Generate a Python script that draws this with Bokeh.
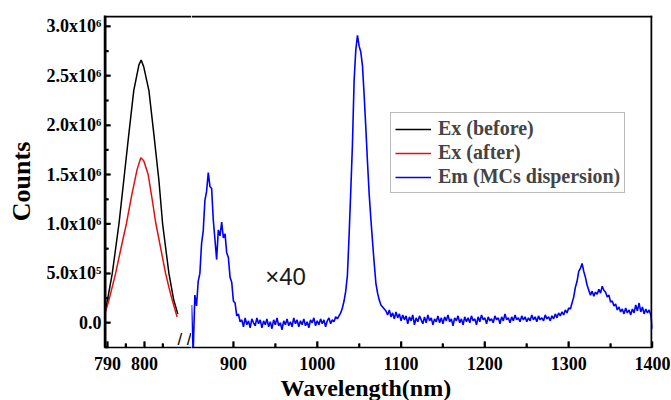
import numpy as np
from bokeh.plotting import figure
from bokeh.models import (Range1d, FixedTicker, Legend, LegendItem,
                          Label, Title)
from bokeh.layouts import row
from bokeh.embed import file_html
from bokeh.resources import INLINE

# ---------------- data (counts in units of 1e6) ----------------
ex_before_wl = [789.0, 790.0, 791.3, 793.1, 794.4, 795.8, 797.1, 798.5, 799.1,
                799.8, 801.2, 802.5, 803.9, 804.9, 806.6, 807.9, 809.0]
ex_before = [0.05, 0.23, 0.50, 1.00, 1.44, 1.92, 2.35, 2.61, 2.66,
             2.59, 2.35, 1.92, 1.44, 1.00, 0.50, 0.23, 0.09]

ex_after_wl = [789.0, 790.4, 792.2, 793.8, 795.1, 796.6, 798.0, 799.0, 799.8,
               801.0, 802.2, 803.0, 804.4, 805.7, 806.6, 807.5, 808.8]
ex_after = [0.05, 0.23, 0.50, 0.78, 1.00, 1.30, 1.55, 1.67, 1.64,
            1.50, 1.22, 1.02, 0.75, 0.50, 0.36, 0.23, 0.06]

# emission spectrum, sampled every 2 nm starting at 850 nm
em_start, em_step = 850, 2
em_counts = [
    0.18, -0.30, 0.28, 0.17, 0.42, 0.50, 0.80, 0.93, 1.24, 1.33,
    1.52, 1.38, 1.36, 1.04, 0.84, 0.64, 0.94, 0.88, 1.02, 0.86,
    0.90, 0.71, 0.66, 0.46, 0.41, 0.22, 0.20, 0.07, 0.09, 0.01,
    0.03, -0.04, 0.05, -0.02, 0.02, -0.05, 0.04, 0.00, -0.03, 0.05,
    -0.01, 0.03, -0.05, 0.02, -0.02, 0.04, -0.04, 0.01, -0.06, 0.03,
    -0.02, 0.05, -0.03, 0.00, -0.07, 0.02, -0.02, 0.04, -0.03, 0.01,
    -0.04, 0.05, -0.01, 0.03, -0.04, 0.02, -0.02, 0.04, -0.03, 0.01,
    -0.05, 0.03, 0.00, 0.05, -0.03, 0.02, -0.02, 0.04, -0.01, 0.03,
    -0.04, 0.02, 0.05, -0.01, 0.03, 0.01, 0.06, 0.04, 0.07, 0.10,
    0.15, 0.22, 0.32, 0.48, 0.88, 1.33, 1.80, 2.45, 2.76, 2.91,
    2.80, 2.74, 2.60, 2.30, 1.97, 1.62, 1.30, 1.05, 0.82, 0.60,
    0.40, 0.30, 0.23, 0.18, 0.16, 0.14, 0.12, 0.08, 0.13, 0.06,
    0.10, 0.04, 0.11, 0.05, 0.09, 0.02, 0.08, 0.03, 0.07, -0.01,
    0.06, 0.02, 0.08, -0.02, 0.05, 0.01, 0.07, 0.03, -0.01, 0.06,
    0.00, 0.08, 0.02, 0.05, -0.02, 0.04, 0.01, 0.07, 0.00, 0.05,
    -0.01, 0.06, 0.02, 0.08, 0.01, 0.04, -0.03, 0.05, 0.02, 0.07,
    0.00, 0.04, -0.02, 0.06, 0.01, 0.05, 0.00, 0.07, 0.02, 0.04,
    -0.02, 0.06, 0.01, 0.08, 0.03, 0.05, -0.01, 0.06, 0.02, 0.04,
    0.00, 0.07, 0.03, 0.05, -0.01, 0.06, 0.02, 0.09, 0.03, 0.05,
    0.00, 0.06, 0.02, 0.08, 0.03, 0.05, 0.01, 0.07, 0.03, 0.06,
    0.01, 0.05, 0.02, 0.08, 0.03, 0.06, 0.01, 0.07, 0.03, 0.05,
    0.02, 0.08, 0.04, 0.06, 0.02, 0.07, 0.04, 0.09, 0.05, 0.10,
    0.07, 0.11, 0.08, 0.13, 0.10, 0.15, 0.14, 0.20, 0.26, 0.36,
    0.42, 0.52, 0.55, 0.60, 0.52, 0.46, 0.38, 0.33, 0.28, 0.32,
    0.27, 0.31, 0.29, 0.34, 0.30, 0.37, 0.33, 0.31, 0.26, 0.28,
    0.21, 0.22, 0.17, 0.19, 0.13, 0.16, 0.11, 0.14, 0.09, 0.15,
    0.10, 0.13, 0.08, 0.14, 0.10, 0.18, 0.12, 0.20, 0.11, 0.16,
    0.09, 0.14, 0.10, 0.13, 0.08, -0.06,
]
em_wl = em_start + em_step * np.arange(len(em_counts))

y_major = [0, 0.5, 1.0, 1.5, 2.0, 2.5, 3.0]
y_minor = [-0.25, 0.25, 0.75, 1.25, 1.75, 2.25, 2.75]
y_labels = ["0.0", "5.0x10\u2075", "1.0x10\u2076", "1.5x10\u2076",
            "2.0x10\u2076", "2.5x10\u2076", "3.0x10\u2076"]
x_left_major = [790, 800]
x_left_minor = [795, 805]
x_right_major = [900, 1000, 1100, 1200, 1300, 1400]
x_right_minor = [950, 1050, 1150, 1250, 1350]

legend_labels = ["Ex (before)", "Ex (after)", "Em (MCs dispersion)"]
colors = ["black", "#e01010", "#0000ff"]

# ---------------- layout / styling constants ----------------
SERIF = "Liberation Serif"
H = 400
TOP, BOTTOM = 15, 53
Y0, Y1 = -0.25, 3.11
XL0, XL1 = 789.2, 812.7
XR0, XR1 = 850, 1400
LEFT_FRAME_W, RIGHT_FRAME_W, FRAME_H = 87, 461, 332
yr = Range1d(Y0, Y1)

# one screen pixel expressed in data units of each scale
PX_Y = (Y1 - Y0) / FRAME_H
PX_XL = (XL1 - XL0) / LEFT_FRAME_W
PX_XR = (XR1 - XR0) / RIGHT_FRAME_W
MAJ, MIN = 6, 4   # inward tick lengths in px


def style_fig(p):
    p.xgrid.visible = False
    p.ygrid.visible = False
    p.outline_line_color = None
    p.background_fill_color = "white"
    p.border_fill_color = "white"


def style_axis(ax):
    ax.axis_line_color = "black"
    ax.axis_line_width = 1.5
    ax.major_tick_line_color = "black"
    ax.minor_tick_line_color = "black"
    ax.major_tick_line_width = 1.5
    ax.minor_tick_line_width = 1.5
    ax.major_tick_in = MAJ
    ax.major_tick_out = 0
    ax.minor_tick_in = MIN
    ax.minor_tick_out = 0
    ax.major_label_text_font = SERIF
    ax.major_label_text_font_style = "bold"
    ax.major_label_text_font_size = "18px"
    ax.major_label_text_color = "black"


def hedge(p, x0, x1, y):
    # horizontal frame edge, drawn as a plain line one pixel inside the frame
    p.line(x=[x0, x1], y=[y, y], line_color="black", line_width=2)


def vedge(p, x):
    p.line(x=[x, x], y=[Y0, Y1], line_color="black", line_width=2)


def xticks_inside(p, major, minor):
    p.segment(x0=major, y0=Y0, x1=major, y1=Y0 + MAJ * PX_Y,
              line_color="black", line_width=2)
    p.segment(x0=minor, y0=Y0, x1=minor, y1=Y0 + MIN * PX_Y,
              line_color="black", line_width=2)


# ---------------- left segment ----------------
pl = figure(width=191, height=H, x_range=Range1d(XL0, XL1), y_range=yr,
            output_backend="svg", toolbar_location=None,
            min_border_left=104, min_border_right=0,
            min_border_top=TOP, min_border_bottom=BOTTOM)
style_fig(pl)
pl.line(ex_before_wl, ex_before, color=colors[0], line_width=1.5)
pl.line(ex_after_wl, ex_after, color=colors[1], line_width=1.5)
hedge(pl, XL0, XL1, Y1 - PX_Y)
vedge(pl, XL0 + PX_XL)
xticks_inside(pl, x_left_major, x_left_minor)
pl.segment(x0=XL0, y0=y_major, x1=XL0 + MAJ * PX_XL, y1=y_major,
           line_color="black", line_width=2)
pl.segment(x0=XL0, y0=y_minor, x1=XL0 + MIN * PX_XL, y1=y_minor,
           line_color="black", line_width=2)

xa = pl.xaxis[0]
style_axis(xa)
xa.ticker = FixedTicker(ticks=x_left_major, minor_ticks=x_left_minor)
xa.major_label_standoff = 9

ya = pl.yaxis[0]
style_axis(ya)
ya.ticker = FixedTicker(ticks=y_major, minor_ticks=y_minor)
ya.major_label_overrides = {t: s for t, s in zip(y_major, y_labels)}
ya.major_label_standoff = 3
ya.axis_label = "Counts"
ya.axis_label_text_font = SERIF
ya.axis_label_text_font_style = "bold"
ya.axis_label_text_font_size = "26px"
ya.axis_label_text_color = "black"
ya.axis_label_standoff = 8

brk = Label(x=XL1, y=Y0, x_offset=-7, y_offset=8, text="/ /",
            text_align="center", text_baseline="middle",
            text_font="Liberation Sans", text_font_size="17px",
            text_color="black")
pl.add_layout(brk)

# ---------------- right segment ----------------
pr = figure(width=480, height=H, x_range=Range1d(XR0, XR1), y_range=yr,
            output_backend="svg", toolbar_location=None, y_axis_location=None,
            min_border_left=0, min_border_right=19,
            min_border_top=TOP, min_border_bottom=BOTTOM)
style_fig(pr)
rb = pr.line(ex_before_wl, ex_before, color=colors[0], line_width=1.5)
rr = pr.line(ex_after_wl, ex_after, color=colors[1], line_width=1.5)
re = pr.line(em_wl, em_counts, color=colors[2], line_width=1.6)
hedge(pr, XR0, XR1, Y1 - PX_Y)
vedge(pr, XR1 - PX_XR)
xticks_inside(pr, x_right_major, x_right_minor)

xb = pr.xaxis[0]
style_axis(xb)
xb.ticker = FixedTicker(ticks=x_right_major, minor_ticks=x_right_minor)
xb.major_label_standoff = 9

xt = Title(text="Wavelength(nm)", align="left", offset=89, standoff=0,
           text_font=SERIF, text_font_style="bold", text_font_size="24px",
           text_color="black")
pr.add_layout(xt, "below")

pr.add_layout(Label(x=938, y=0.47, text="\u00d740", text_baseline="middle",
                    text_font="Liberation Sans", text_font_size="24px",
                    text_color="#1a1a1a"))

legend = Legend(items=[LegendItem(label=legend_labels[0], renderers=[rb]),
                       LegendItem(label=legend_labels[1], renderers=[rr]),
                       LegendItem(label=legend_labels[2], renderers=[re])],
                location=(199, 154), border_line_color="#777777",
                border_line_width=1, background_fill_color="white",
                background_fill_alpha=1.0, label_text_font=SERIF,
                label_text_font_style="bold", label_text_font_size="20px",
                glyph_width=36, glyph_height=22, label_standoff=7,
                padding=4, spacing=1, margin=0)
pr.add_layout(legend)

layout = row(pl, pr)
open("out.html", "w").write(file_html(layout, INLINE))
